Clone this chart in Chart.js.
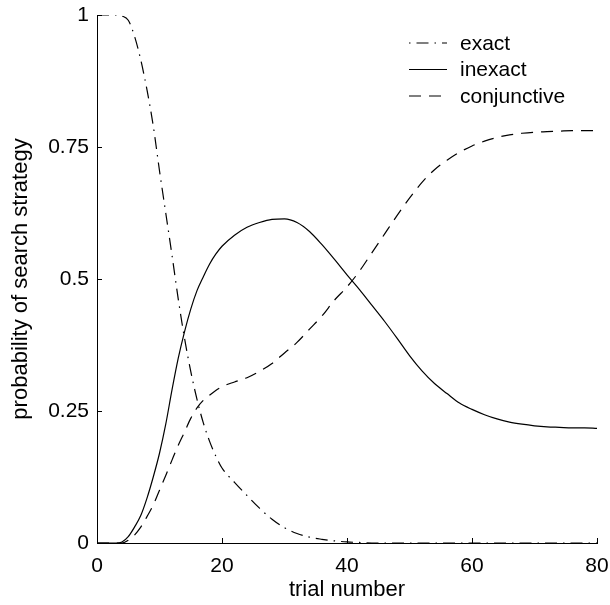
<!DOCTYPE html>
<html>
<head>
<meta charset="utf-8">
<style>
  html, body { margin: 0; padding: 0; background: #fff; }
  #wrap { width: 610px; height: 605px; }
</style>
<script src="https://cdn.jsdelivr.net/npm/chart.js@4/dist/chart.umd.min.js"></script>
</head>
<body>
<div id="wrap"><canvas id="chart"></canvas></div>
<script>
const trials = [0, 1, 2, 3, 4, 5, 6, 7, 8, 9, 10, 11, 12, 13, 14, 15, 16, 17, 18, 19, 20,
  22, 24, 26, 28, 30, 32, 34, 36, 38, 40, 42, 44, 46, 48, 50, 52, 54, 56, 58, 60,
  62, 64, 66, 68, 70, 72, 74, 76, 78, 80];

const exact = [1, 1, 1, 1, 0.998, 0.99, 0.96, 0.915, 0.858, 0.79, 0.705, 0.625, 0.545, 0.462, 0.388, 0.325, 0.272, 0.228, 0.193, 0.165, 0.142,
  0.115, 0.09, 0.066, 0.045, 0.029, 0.018, 0.011, 0.007, 0.004, 0.002, 0.001, 0, 0, 0, 0, 0, 0, 0, 0, 0,
  0, 0, 0, 0, 0, 0, 0, 0, 0, 0];

const inexact = [0, 0, 0, 0, 0.002, 0.012, 0.03, 0.052, 0.085, 0.125, 0.17, 0.225, 0.29, 0.35, 0.40, 0.443, 0.478, 0.504, 0.528, 0.547, 0.562,
  0.583, 0.598, 0.607, 0.613, 0.614, 0.607, 0.59, 0.565, 0.537, 0.508, 0.48, 0.45, 0.42, 0.388, 0.355, 0.326, 0.302, 0.283, 0.265, 0.253,
  0.243, 0.235, 0.229, 0.225, 0.222, 0.22, 0.219, 0.218, 0.218, 0.217];

const conjunctive = [0, 0, 0, 0, 0, 0.005, 0.015, 0.03, 0.05, 0.072, 0.10, 0.128, 0.157, 0.185, 0.21, 0.236, 0.256, 0.27, 0.28, 0.289, 0.296,
  0.305, 0.313, 0.325, 0.34, 0.36, 0.38, 0.405, 0.43, 0.46, 0.485, 0.515, 0.55, 0.585, 0.62, 0.653, 0.683, 0.707, 0.725, 0.74, 0.752,
  0.761, 0.768, 0.773, 0.776, 0.778, 0.779, 0.78, 0.781, 0.781, 0.781];

const xTicks = [0, 20, 40, 60, 80];
const yTicks = [0, 0.25, 0.5, 0.75, 1];
const yTickLabels = ['0', '0.25', '0.5', '0.75', '1'];

const FONT = 'Arial, "Liberation Sans", sans-serif';

function series(values) {
  return trials.map((t, i) => ({ x: t, y: values[i] }));
}

// inward tick marks + legend inside the plot
const decorations = {
  id: 'decorations',
  afterDraw(chart) {
    const { ctx, chartArea, scales } = chart;
    ctx.save();
    ctx.strokeStyle = '#000';
    ctx.lineWidth = 1;
    ctx.beginPath();
    xTicks.forEach(v => {
      const px = Math.round(scales.x.getPixelForValue(v)) + 0.5;
      ctx.moveTo(px, chartArea.bottom);
      ctx.lineTo(px, chartArea.bottom - 5);
    });
    yTicks.forEach(v => {
      const py = Math.round(scales.y.getPixelForValue(v)) + 0.5;
      ctx.moveTo(chartArea.left, py);
      ctx.lineTo(chartArea.left + 5, py);
    });
    ctx.stroke();

    // legend
    ctx.font = '21px ' + FONT;
    ctx.textBaseline = 'middle';
    ctx.fillStyle = '#000';
    chart.data.datasets.forEach((ds, i) => {
      const y = 43 + i * 26.5;
      ctx.beginPath();
      ctx.lineWidth = 1.2;
      ctx.setLineDash(ds.borderDash || []);
      ctx.lineDashOffset = ds.legendDashOffset || 0;
      ctx.moveTo(409, y);
      ctx.lineTo(447, y);
      ctx.stroke();
      ctx.setLineDash([]);
      ctx.fillText(ds.label, 460, y + 1);
    });
    ctx.restore();
  }
};

new Chart(document.getElementById('chart'), {
  type: 'line',
  data: {
    datasets: [
      { label: 'exact', data: series(exact), borderDash: [12, 6, 1.5, 6], legendDashOffset: 18 },
      { label: 'inexact', data: series(inexact), borderDash: [] },
      { label: 'conjunctive', data: series(conjunctive), borderDash: [12, 8], legendDashOffset: 0 }
    ].map(ds => Object.assign(ds, {
      borderColor: '#000',
      borderWidth: 1.2,
      pointRadius: 0,
      fill: false,
      cubicInterpolationMode: 'monotone'
    }))
  },
  options: {
    responsive: true,
    maintainAspectRatio: false,
    animation: false,
    layout: { padding: { left: 0, right: 13, top: 15, bottom: 0 } },
    plugins: { legend: { display: false }, tooltip: { enabled: false } },
    scales: {
      x: {
        type: 'linear',
        min: 0,
        max: 80,
        afterBuildTicks: s => { s.ticks = xTicks.map(v => ({ value: v })); },
        afterFit: s => { s.height = 62; s.paddingLeft = 0; s.paddingRight = 0; },
        grid: { display: false, drawTicks: false },
        border: { display: true, color: '#000', width: 1 },
        ticks: { color: '#000', font: { family: FONT, size: 21 }, padding: 11, maxRotation: 0 },
        title: { display: true, text: 'trial number', color: '#000', font: { family: FONT, size: 22, lineHeight: 1 }, padding: { top: 4, bottom: 4 } }
      },
      y: {
        type: 'linear',
        min: 0,
        max: 1,
        afterBuildTicks: s => { s.ticks = yTicks.map(v => ({ value: v })); },
        afterFit: s => { s.width = 97; s.paddingTop = 0; s.paddingBottom = 0; },
        grid: { display: false, drawTicks: false },
        border: { display: true, color: '#000', width: 1 },
        ticks: {
          color: '#000',
          font: { family: FONT, size: 21 },
          padding: 8,
          callback: v => yTickLabels[yTicks.indexOf(v)]
        },
        title: { display: true, text: 'probability of search strategy', color: '#000', font: { family: FONT, size: 22, lineHeight: 1 }, padding: { top: 10, bottom: 10 } }
      }
    }
  },
  plugins: [decorations]
});
</script>
</body>
</html>
